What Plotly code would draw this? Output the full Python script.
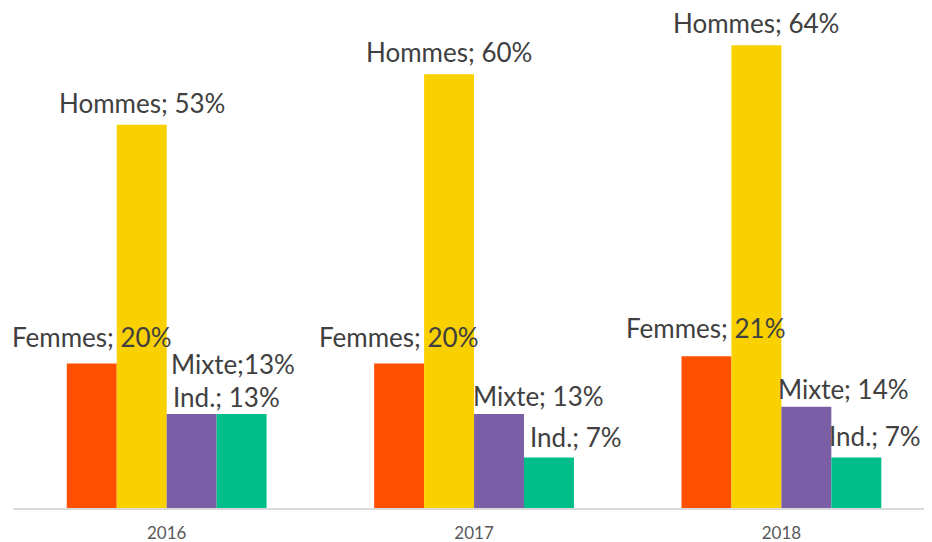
import plotly.graph_objects as go

years = ["2016", "2017", "2018"]
series_names = ["Femmes", "Hommes", "Mixte", "Ind."]
femmes = [20, 20, 21]
hommes = [53, 60, 64]
mixte = [13, 13, 14]
ind = [13, 7, 7]
labels_femmes = ["Femmes; 20%", "Femmes; 20%", "Femmes; 21%"]
labels_hommes = ["Hommes; 53%", "Hommes; 60%", "Hommes; 64%"]
labels_mixte = ["Mixte;13%", "Mixte; 13%", "Mixte; 14%"]
labels_ind = ["Ind.; 13%", "Ind.; 7%", "Ind.; 7%"]

colors = ["#FF5000", "#F9D000", "#7A5FA6", "#00BE8A"]
values = [femmes, hommes, mixte, ind]
labels = [labels_femmes, labels_hommes, labels_mixte, labels_ind]
pos = list(range(len(years)))

fig = go.Figure()
for name, vals, col in zip(series_names, values, colors):
    fig.add_trace(go.Bar(x=pos, y=vals, name=name, marker_color=col,
                         marker_line_width=0))

# label offsets (px) relative to category centre, and vertical shifts
xshifts = [[-75, -75, -75], [-25, -25, -25], [66, 64, 62], [60, 102, 94]]
yshifts = [[8, 8, 10], [4, 4, 4], [32, 0, 0], [-1, 2, 3]]

for s in range(4):
    for i in pos:
        fig.add_annotation(x=i, y=values[s][i], xref="x", yref="y", text=labels[s][i],
                           showarrow=False, xanchor="center", yanchor="bottom",
                           xshift=xshifts[s][i], yshift=yshifts[s][i],
                           font=dict(family="Lato, sans-serif", size=26, color="#404040"))

fig.update_layout(
    width=924, height=534,
    margin=dict(l=5, r=0, t=12, b=34),
    plot_bgcolor="white", paper_bgcolor="white",
    barmode="group", bargap=0.35, bargroupgap=0,
    showlegend=False,
    xaxis=dict(type="linear", range=[-0.5, 2.49], tickvals=pos, ticktext=years,
               showline=True, linecolor="#D9D9D9", linewidth=2,
               ticks="", ticklabelstandoff=9,
               tickfont=dict(family="Lato, sans-serif", size=17, color="#595959"),
               showgrid=False, zeroline=False),
    yaxis=dict(range=[0, 67.5], visible=False, showgrid=False, zeroline=False),
)

fig.write_html("out.html")
